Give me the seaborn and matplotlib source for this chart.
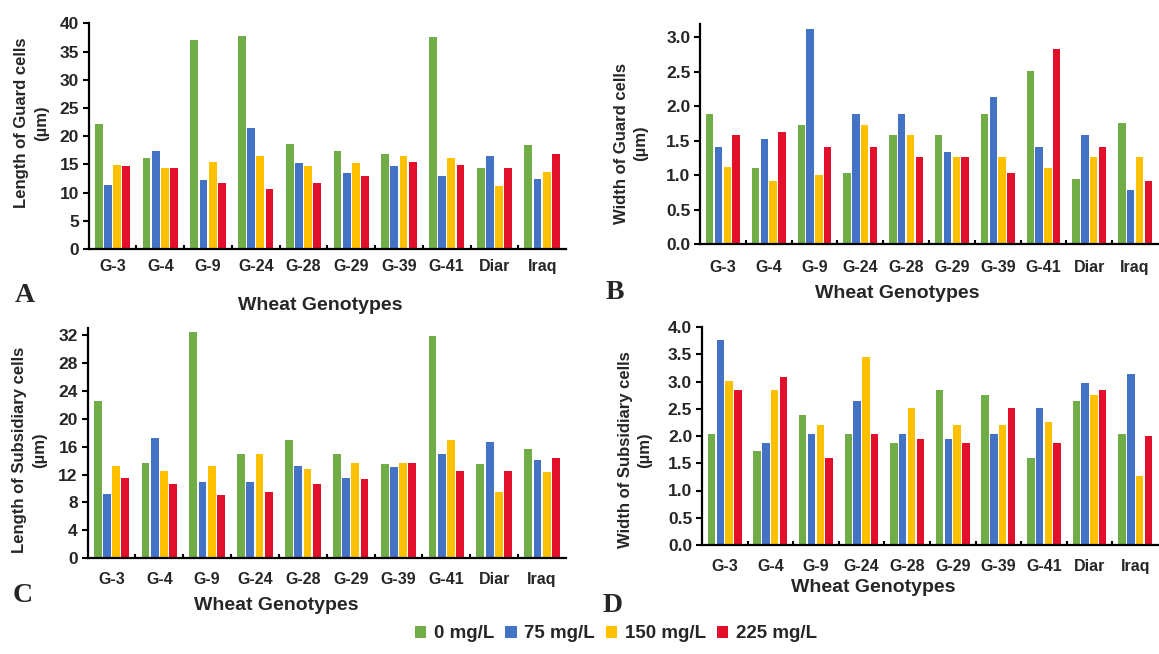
import pandas as pd
import seaborn as sns
import matplotlib.pyplot as plt
from matplotlib.patches import Patch

# Data
genotypes = ['G-3', 'G-4', 'G-9', 'G-24', 'G-28', 'G-29', 'G-39', 'G-41', 'Diar', 'Iraq']
concs = ['0 mg/L', '75 mg/L', '150 mg/L', '225 mg/L']

guard_len_0 = [22.2, 16.2, 37.1, 37.8, 18.6, 17.4, 16.8, 37.6, 14.3, 18.4]
guard_len_75 = [11.4, 17.3, 12.2, 21.4, 15.2, 13.4, 14.7, 13.0, 16.5, 12.4]
guard_len_150 = [14.9, 14.3, 15.5, 16.5, 14.7, 15.2, 16.5, 16.2, 11.2, 13.7]
guard_len_225 = [14.7, 14.3, 11.7, 10.7, 11.7, 13.0, 15.5, 14.9, 14.3, 16.8]

guard_wid_0 = [1.88, 1.10, 1.73, 1.03, 1.58, 1.58, 1.88, 2.51, 0.95, 1.75]
guard_wid_75 = [1.41, 1.53, 3.12, 1.88, 1.88, 1.33, 2.14, 1.41, 1.58, 0.78]
guard_wid_150 = [1.12, 0.92, 1.01, 1.73, 1.58, 1.27, 1.27, 1.10, 1.27, 1.27]
guard_wid_225 = [1.58, 1.62, 1.41, 1.41, 1.27, 1.27, 1.03, 2.83, 1.41, 0.92]

subs_len_0 = [22.6, 13.7, 32.5, 15.0, 16.9, 15.0, 13.5, 31.9, 13.5, 15.7]
subs_len_75 = [9.2, 17.3, 10.9, 10.9, 13.2, 11.5, 13.1, 15.0, 16.6, 14.1]
subs_len_150 = [13.2, 12.5, 13.2, 15.0, 12.8, 13.7, 13.6, 16.9, 9.5, 12.3]
subs_len_225 = [11.5, 10.7, 9.1, 9.5, 10.6, 11.3, 13.7, 12.5, 12.5, 14.4]

subs_wid_0 = [2.03, 1.72, 2.38, 2.03, 1.88, 2.84, 2.75, 1.59, 2.65, 2.03]
subs_wid_75 = [3.76, 1.88, 2.03, 2.65, 2.03, 1.95, 2.03, 2.51, 2.97, 3.13]
subs_wid_150 = [3.01, 2.84, 2.21, 3.45, 2.51, 2.21, 2.21, 2.25, 2.75, 1.27]
subs_wid_225 = [2.84, 3.08, 1.59, 2.03, 1.95, 1.88, 2.51, 1.88, 2.84, 2.00]

plt_colors = {'0 mg/L': '#70AD47',
              '75 mg/L': '#4472C4',
              '150 mg/L': '#FFC000',
              '225 mg/L': '#E3102C'}


def to_long(series):
    rows = []
    for conc, vals in zip(concs, series):
        for g, v in zip(genotypes, vals):
            rows.append({'Genotype': g, 'Conc': conc, 'value': v})
    return pd.DataFrame(rows)


sns.set_style('ticks')
plt.rcParams['font.family'] = ['Liberation Sans', 'DejaVu Sans']
plt.rcParams['font.weight'] = 'bold'

fig = plt.figure(figsize=(11.59, 6.54), dpi=100)
W, H = 1159, 654


def px_axes(x0, x1, ytop, ybot):
    return fig.add_axes([x0 / W, 1 - ybot / H, (x1 - x0) / W, (ybot - ytop) / H])


panels = [
    # series, axes box, ylim, yticks, xtick pad
    ([guard_len_0, guard_len_75, guard_len_150, guard_len_225],
     (88.7, 566, 23.3, 249), 40, [0, 5, 10, 15, 20, 25, 30, 35, 40], '{:.0f}', 7),
    ([guard_wid_0, guard_wid_75, guard_wid_150, guard_wid_225],
     (700, 1158, 24, 244.3), 3.19, [0, 0.5, 1.0, 1.5, 2.0, 2.5, 3.0], '{:.1f}', 11),
    ([subs_len_0, subs_len_75, subs_len_150, subs_len_225],
     (87.5, 566, 328.3, 558.3), 32.96, [0, 4, 8, 12, 16, 20, 24, 28, 32], '{:.0f}', 10),
    ([subs_wid_0, subs_wid_75, subs_wid_150, subs_wid_225],
     (701.9, 1158, 327, 545), 4.0, [0, 0.5, 1.0, 1.5, 2.0, 2.5, 3.0, 3.5, 4.0], '{:.1f}', 10),
]

for series, box, ymax, yt, fmt, xpad in panels:
    ax = px_axes(*box)
    df = to_long(series)
    sns.barplot(data=df, x='Genotype', y='value', hue='Conc', order=genotypes,
                hue_order=concs, palette=plt_colors, saturation=1, width=0.77,
                gap=0.15, linewidth=0, legend=False, ax=ax)
    ax.set_xlim(-0.5, 9.5)
    ax.set_ylim(0, ymax)
    ax.set_yticks(yt)
    ax.set_yticklabels([fmt.format(t) for t in yt])
    ax.set_xticks([i + 0.5 for i in range(9)], minor=True)
    ax.tick_params(axis='x', which='major', length=0, pad=xpad, labelsize=11.5)
    ax.tick_params(axis='x', which='minor', direction='in', length=3, width=1.5, color='black')
    ax.tick_params(axis='y', direction='out', length=4, width=1.5, color='black',
                   labelsize=12.5, pad=3)
    ax.set_xlabel('')
    ax.set_ylabel('')
    for s in ['left', 'bottom']:
        ax.spines[s].set_linewidth(1.6)
        ax.spines[s].set_color('black')
    sns.despine(ax=ax)

# axis titles
ylabels = [('Length of Guard cells\n(µm)', 31.5, 123),
           ('Width of Guard cells\n(µm)', 631, 143),
           ('Length of Subsidiary cells\n(µm)', 29.3, 450),
           ('Width of Subsidiary cells\n(µm)', 635, 450)]
for txt, x, y in ylabels:
    fig.text(x / W, 1 - y / H, txt, rotation=90, ha='center', va='center',
             multialignment='center', fontsize=12, fontweight='bold', linespacing=1.4)

xlabels = [(320, 305), (897, 293), (276, 605), (873, 587)]
for x, y in xlabels:
    fig.text(x / W, 1 - y / H, 'Wheat Genotypes', ha='center', va='center',
             fontsize=14, fontweight='bold')

letters = [('A', 24.5, 296), ('B', 614.5, 292), ('C', 23, 595), ('D', 613, 605)]
for txt, x, y in letters:
    fig.text(x / W, 1 - y / H, txt, ha='center', va='center', fontsize=20,
             fontweight='bold', family=['Liberation Serif', 'DejaVu Serif'])

handles = [Patch(facecolor=plt_colors[c], edgecolor='none', label=c) for c in concs]
fig.legend(handles=handles, loc='center', bbox_to_anchor=(616 / W, 1 - 634 / H),
           ncol=4, frameon=False, fontsize=13.5, handlelength=0.6, handleheight=0.6,
           handletextpad=0.4, columnspacing=0.6, borderaxespad=0)

plt.savefig('out.png', dpi=100)
